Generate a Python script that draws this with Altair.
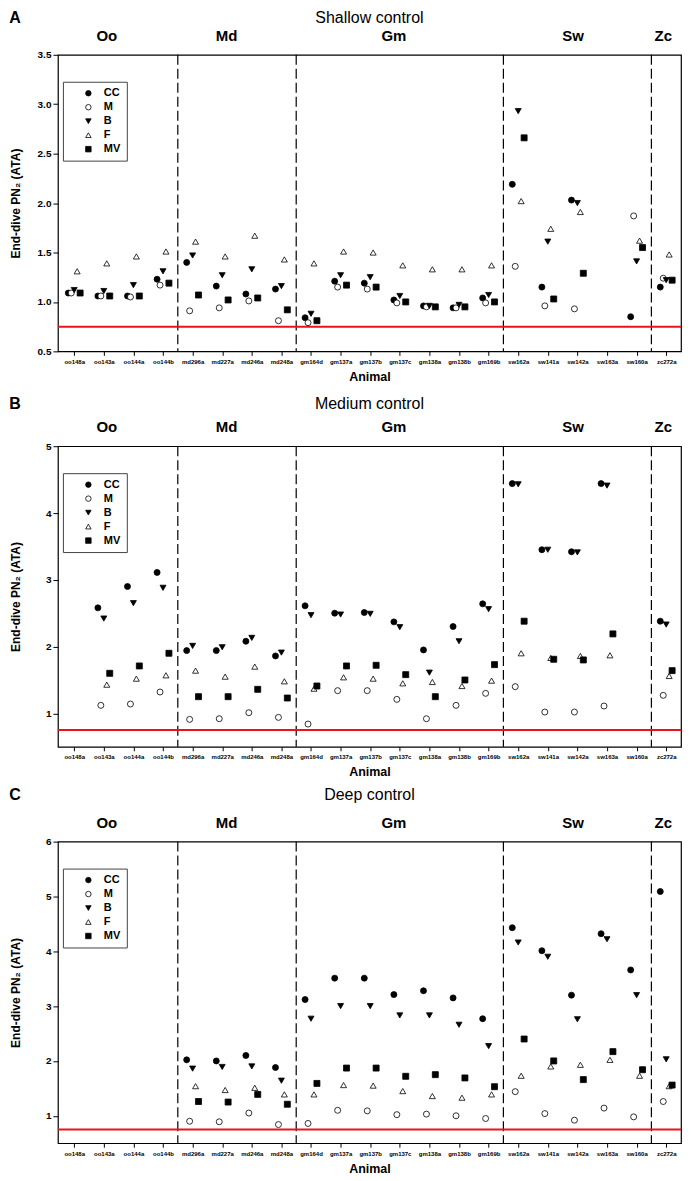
import altair as alt
import pandas as pd

animals = ["oo148a", "oo143a", "oo144a", "oo144b", "md296a", "md227a", "md246a", "md248a",
           "gm164d", "gm137a", "gm137b", "gm137c", "gm138a", "gm138b", "gm169b",
           "sw162a", "sw141a", "sw142a", "sw163a", "sw160a", "zc272a"]
series = ["CC", "M", "B", "F", "MV"]
offsets = [-0.2, -0.1, 0.0, 0.1, 0.2]
shapes = ["circle", "circle", "triangle-down", "triangle-up", "square"]
fills = ["black", "white", "black", "white", "black"]
strokes = ["black", "black", "black", "black", "black"]
species = ["Oo", "Md", "Gm", "Sw", "Zc"]
species_pos = [1.1, 5.15, 10.8, 16.85, 19.9]
dividers = [3.5, 7.5, 14.5, 19.5]
threshold = [0.75]

N = None
# Shallow control
shallow_cc = [1.09, 1.06, 1.06, 1.23, 1.40, 1.16, 1.08, 1.13, 0.84, 1.21, 1.19, 1.02, 0.96, 0.94, 1.04, 2.19, 1.15, 2.03, N, 0.85, 1.15]
shallow_m = [1.09, 1.06, 1.05, 1.17, 0.91, 0.94, 1.01, 0.81, 0.79, 1.15, 1.13, 0.99, 0.95, 0.94, 0.99, 1.36, 0.96, 0.93, N, 1.87, 1.24]
shallow_b = [1.12, 1.11, 1.17, 1.31, 1.47, 1.27, 1.33, 1.16, 0.88, 1.27, 1.25, 1.06, 0.96, 0.97, 1.07, 2.93, 1.61, 2.00, N, 1.41, 1.22]
shallow_f = [1.31, 1.39, 1.46, 1.51, 1.61, 1.46, 1.67, 1.43, 1.39, 1.51, 1.50, 1.37, 1.33, 1.33, 1.37, 2.02, 1.74, 1.91, N, 1.62, 1.48]
shallow_mv = [1.09, 1.06, 1.06, 1.19, 1.07, 1.02, 1.04, 0.92, 0.81, 1.17, 1.15, 1.00, 0.95, 0.95, 1.00, 2.66, 1.03, 1.29, N, 1.55, 1.22]
# Medium control
medium_cc = [N, 2.58, 2.90, 3.11, 1.94, 1.94, 2.08, 1.86, 2.61, 2.50, 2.51, 2.37, 1.95, 2.30, 2.64, 4.44, 3.45, 3.42, 4.44, N, 2.38]
medium_m = [N, 1.12, 1.14, 1.32, 0.91, 0.92, 1.01, 0.94, 0.84, 1.34, 1.34, 1.21, 0.92, 1.12, 1.30, 1.40, 1.02, 1.02, 1.11, N, 1.27]
medium_b = [N, 2.42, 2.65, 2.88, 2.01, 1.99, 2.13, 1.91, 2.47, 2.48, 2.49, 2.29, 1.61, 2.08, 2.56, 4.43, 3.45, 3.41, 4.41, N, 2.33]
medium_f = [N, 1.43, 1.52, 1.57, 1.64, 1.55, 1.70, 1.48, 1.37, 1.54, 1.52, 1.45, 1.47, 1.41, 1.49, 1.90, 1.83, 1.86, 1.87, N, 1.56]
medium_mv = [N, 1.60, 1.71, 1.90, 1.25, 1.25, 1.36, 1.23, 1.41, 1.71, 1.72, 1.58, 1.25, 1.50, 1.73, 2.38, 1.81, 1.80, 2.19, N, 1.64]
# Deep control
deep_cc = [N, N, N, N, 2.02, 2.00, 2.10, 1.88, 3.12, 3.51, 3.51, 3.21, 3.28, 3.15, 2.77, 4.43, 4.01, 3.20, 4.32, 3.66, 5.09]
deep_m = [N, N, N, N, 0.90, 0.89, 1.05, 0.84, 0.86, 1.10, 1.09, 1.02, 1.03, 1.00, 0.95, 1.44, 1.04, 0.92, 1.14, 0.98, 1.26]
deep_b = [N, N, N, N, 1.86, 1.89, 1.90, 1.64, 2.77, 3.00, 3.00, 2.83, 2.83, 2.66, 2.27, 4.16, 3.90, 2.76, 4.22, 3.20, 2.03]
deep_f = [N, N, N, N, 1.54, 1.47, 1.51, 1.39, 1.39, 1.56, 1.55, 1.45, 1.36, 1.33, 1.39, 1.73, 1.90, 1.93, 2.02, 1.73, 1.54]
deep_mv = [N, N, N, N, 1.26, 1.25, 1.39, 1.21, 1.59, 1.87, 1.87, 1.72, 1.75, 1.69, 1.53, 2.40, 2.00, 1.66, 2.17, 1.84, 1.56]

FONT = "Liberation Sans"
W = 624
label_expr = "[" + ",".join("'%s'" % a for a in animals) + "][round(datum.value)]"


def long_df(cols):
    rows = []
    for s, off, vals in zip(series, offsets, cols):
        for i, v in enumerate(vals):
            if v is not None:
                rows.append({"xpos": i + off, "value": v, "series": s})
    return pd.DataFrame(rows)


def panel(letter, title, cols, ymax, yticks, yfmt, height, title_y, top_guard):
    xscale = alt.Scale(domain=[-0.55, 20.5], nice=False, zero=False)
    yscale = alt.Scale(domain=[0.5, ymax], nice=False, zero=False)
    xaxis = alt.Axis(values=list(range(21)), labelExpr=label_expr, title="Animal", grid=False,
                     labelFontSize=6, labelFontWeight="bold", labelAngle=0, tickSize=4,
                     labelPadding=3, titleFontSize=12.5, titleFontWeight="bold", titlePadding=6,
                     domain=False, labelFont=FONT, titleFont=FONT)
    yaxis = alt.Axis(values=yticks, format=yfmt, title="End-dive PN₂ (ATA)", grid=False,
                     labelFontSize=10, labelFontWeight="bold", tickSize=5, labelPadding=2,
                     titleFontSize=12, titleFontWeight="bold", titleX=-42, titleY=height / 2,
                     titleAngle=270, titleAlign="center", titleBaseline="middle",
                     domain=False, labelFont=FONT, titleFont=FONT)
    leg = alt.Legend(orient="none", legendX=5, legendY=27, title=None, strokeColor="#444",
                     padding=6, symbolOffset=14, labelFontSize=11, labelFontWeight="bold",
                     labelFont=FONT, symbolSize=30, symbolStrokeColor="black",
                     symbolStrokeWidth=0.8, rowPadding=2, fillColor="white", labelOffset=10)
    df = long_df(cols)
    rules = alt.Chart(pd.DataFrame({"xpos": dividers})).mark_rule(
        strokeDash=[10, 4], color="black", strokeWidth=1.2
    ).encode(x=alt.X("xpos:Q", scale=xscale, axis=xaxis))
    red = alt.Chart(pd.DataFrame({"value": threshold})).mark_rule(
        color="#e8141c", strokeWidth=2
    ).encode(y=alt.Y("value:Q", scale=yscale, axis=yaxis))
    pts = alt.Chart(df).mark_point(filled=True, size=36, strokeWidth=0.8, opacity=1).encode(
        x=alt.X("xpos:Q", scale=xscale, axis=xaxis),
        y=alt.Y("value:Q", scale=yscale, axis=yaxis),
        shape=alt.Shape("series:N", scale=alt.Scale(domain=series, range=shapes), legend=leg),
        fill=alt.Fill("series:N", scale=alt.Scale(domain=series, range=fills), legend=leg),
        stroke=alt.Stroke("series:N", scale=alt.Scale(domain=series, range=strokes), legend=leg),
    )
    sp = alt.Chart(pd.DataFrame({"xpos": species_pos, "label": species})).mark_text(
        font=FONT, fontSize=15, fontWeight="bold", baseline="middle", align="center"
    ).encode(x=alt.X("xpos:Q", scale=xscale, axis=xaxis), y=alt.value(-19), text="label:N")
    ttl = alt.Chart(pd.DataFrame({"t": [title]})).mark_text(
        font=FONT, fontSize=16, baseline="middle", align="center"
    ).encode(x=alt.value(W / 2), y=alt.value(title_y), text="t:N")
    let = alt.Chart(pd.DataFrame({"t": [letter]})).mark_text(
        font=FONT, fontSize=16, fontWeight="bold", baseline="middle", align="center"
    ).encode(x=alt.value(-43), y=alt.value(title_y), text="t:N")
    guard = alt.Chart(pd.DataFrame({"t": ["."]})).mark_text(
        font=FONT, fontSize=16, baseline="middle", align="center", opacity=0
    ).encode(x=alt.value(W / 2), y=alt.value(top_guard), text="t:N")
    return alt.layer(rules, red, pts, sp, ttl, let, guard).properties(width=W, height=height)


pA = panel("A", "Shallow control", [shallow_cc, shallow_m, shallow_b, shallow_f, shallow_mv],
           3.5, [0.5, 1.0, 1.5, 2.0, 2.5, 3.0, 3.5], ".1f", 297, -37, -37)
pB = panel("B", "Medium control", [medium_cc, medium_m, medium_b, medium_f, medium_mv],
           5, [1, 2, 3, 4, 5], "d", 301, -42, -47)
pC = panel("C", "Deep control", [deep_cc, deep_m, deep_b, deep_f, deep_mv],
           6, [1, 2, 3, 4, 5, 6], "d", 302, -47, -47)

chart = alt.vconcat(pA, pB, pC, spacing=6,
                    padding={"left": 0, "top": 0, "right": 0, "bottom": 0}).resolve_scale(
    shape="independent", fill="independent", stroke="independent"
).resolve_legend(shape="independent", fill="independent", stroke="independent").configure_view(
    stroke="black", strokeWidth=1.2
).configure_axis(
    tickColor="black", labelColor="black", titleColor="black"
)

chart.save("out.html", embed_options={"renderer": "svg", "actions": False})
